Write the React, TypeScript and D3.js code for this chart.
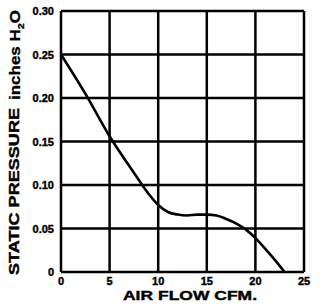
import React from "react";
import * as d3 from "d3";

const flow = [0, 2.5, 5, 7.5, 9, 10, 11, 12, 13, 14, 15, 16, 17, 18, 19, 20, 21, 22, 23];
const pressure = [0.25, 0.205, 0.156, 0.114, 0.09, 0.077, 0.069, 0.066, 0.065, 0.066, 0.066, 0.065, 0.061, 0.056, 0.049, 0.039, 0.027, 0.014, 0];
const xTicks = [0, 5, 10, 15, 20, 25];
const yTicks = [0, 0.05, 0.1, 0.15, 0.2, 0.25, 0.3];
const yTickLabels = ["0", "0.05", "0.10", "0.15", "0.20", "0.25", "0.30"];
const xTitle = "AIR FLOW CFM.";
const yTitle = "STATIC PRESSURE";
const yUnit = "inches H";

export default function App() {
  const x = d3.scaleLinear().domain([0, 25]).range([61, 304]);
  const y = d3.scaleLinear().domain([0, 0.3]).range([272, 11]);
  const line = d3
    .line<number>()
    .x((_, i) => x(flow[i]))
    .y((d) => y(d))
    .curve(d3.curveMonotoneX);
  const font = "'Liberation Sans', Arial, sans-serif";
  return (
    <svg
      width={320}
      height={306}
      style={{ position: "absolute", left: 0, top: 0, background: "#fff" }}
      fontFamily={font}
      fontWeight="bold"
    >
      <rect width={320} height={306} fill="#fff" />
      {xTicks.map((t) => (
        <line key={"gx" + t} x1={x(t)} x2={x(t)} y1={y(0.3)} y2={y(0)} stroke="#000" strokeWidth={2.5} />
      ))}
      {yTicks.map((t) => (
        <line key={"gy" + t} x1={x(0)} x2={x(25)} y1={y(t)} y2={y(t)} stroke="#000" strokeWidth={2.5} />
      ))}
      <path d={line(pressure) || ""} fill="none" stroke="#000" strokeWidth={2.6} strokeLinejoin="round" />
      {yTicks.map((t, i) => (
        <text key={"ly" + t} x={54} y={y(t) + 4} textAnchor="end" fontSize={11} stroke="#000" strokeWidth={0.4}>
          {yTickLabels[i]}
        </text>
      ))}
      {xTicks.map((t) => (
        <text key={"lx" + t} x={x(t)} y={285} textAnchor="middle" fontSize={11} stroke="#000" strokeWidth={0.4}>
          {t}
        </text>
      ))}
      <text x={123} y={300} fontSize={13} textLength={134} lengthAdjust="spacingAndGlyphs" stroke="#000" strokeWidth={0.4}>
        {xTitle}
      </text>
      <text
        transform="translate(19,275) rotate(-90)"
        fontSize={15}
        textLength={167}
        lengthAdjust="spacingAndGlyphs"
        stroke="#000"
        strokeWidth={0.4}
      >
        {yTitle}
      </text>
      <text
        transform="translate(20,100) rotate(-90)"
        fontSize={14}
        textLength={90}
        lengthAdjust="spacingAndGlyphs"
        stroke="#000"
        strokeWidth={0.3}
      >
        <tspan>{yUnit}</tspan>
        <tspan fontSize={9} dy={4}>2</tspan>
        <tspan dy={-4}>O</tspan>
      </text>
    </svg>
  );
}
